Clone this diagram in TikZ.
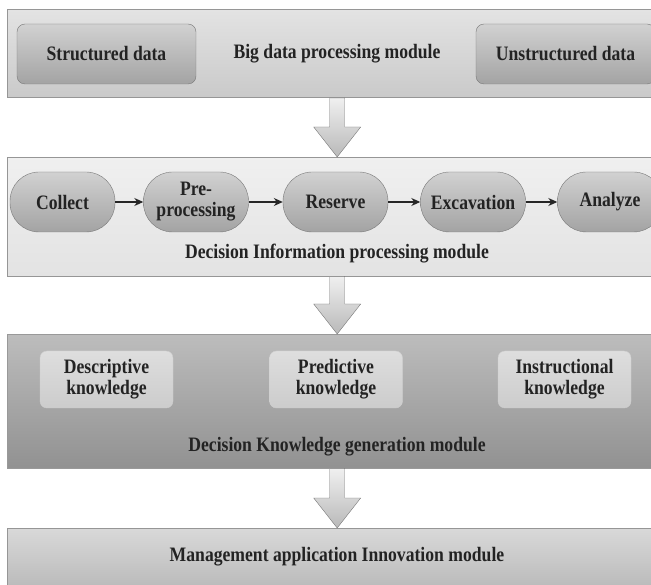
\documentclass[tikz,border=0pt]{standalone}
\usepackage{fontspec}
\setmainfont{Liberation Serif}[FakeStretch=0.86]
\usepackage{xcolor}
\definecolor{bdtext}{RGB}{35,35,35}
\definecolor{bdedge}{RGB}{150,150,150}
\definecolor{bddark}{RGB}{120,120,120}
\usepackage{tikz}
\usetikzlibrary{arrows.meta, positioning, calc}

\tikzset{
  band/.style={draw=bdedge, anchor=north west, minimum width=660pt, inner sep=0pt},
  databox/.style={draw=bddark, rounded corners=8pt, top color=gray!36, bottom color=gray!72,
    minimum width=179pt, minimum height=60pt, font=\fontsize{20.5}{22}\selectfont\bfseries, text=bdtext},
  stadium/.style={draw=bddark, rounded corners=29pt, top color=gray!36, bottom color=gray!72,
    minimum width=105pt, minimum height=60pt, align=center, inner sep=2pt,
    font=\fontsize{20.5}{21}\selectfont\bfseries, text=bdtext},
  knowbox/.style={draw=gray!38, rounded corners=7pt, top color=gray!26, bottom color=gray!40,
    minimum width=133pt, minimum height=57pt, align=center,
    font=\fontsize{20.5}{21}\selectfont\bfseries, text=bdtext},
  title/.style={font=\fontsize{20.5}{22}\selectfont\bfseries, text=bdtext},
  flow/.style={-{Stealth[length=9pt,width=8pt]}, line width=1.1pt, draw=black!85},
  blockarr/.style={draw=bddark, top color=gray!12, bottom color=gray!55}
}
% block arrow between two bands
\newcommand{\bigarrow}[2]{%
  \path[blockarr] ($(#1.south)+(-7.5,0)$) -- ($(#2.north)+(-7.5,-30)$) -- ($(#2.north)+(-23.5,-30)$)
    -- (#2.north) -- ($(#2.north)+(23.5,-30)$) -- ($(#2.north)+(7.5,-30)$) -- ($(#1.south)+(7.5,0)$) -- cycle;}

\begin{document}
\begin{tikzpicture}[x=1pt, y=-1pt]
  \useasboundingbox (0,0) rectangle (651,585);
  \clip (0,0) rectangle (651,585);

  % bands
  \node[band, top color=gray!22, bottom color=gray!42, minimum height=88pt] (bigband) at (7,9.5) {};
  \node[band, top color=gray!12, bottom color=gray!22, minimum height=119pt] (infoband) at (7,157) {};
  \node[band, draw=gray!80, top color=gray!52, bottom color=gray!86, minimum height=134pt] (knowband) at (7,334) {};
  \node[band, top color=gray!30, bottom color=gray!58, minimum height=70pt] (mgmtband) at (7,528) {};

  % big data processing module
  \node[databox] (structured) at (106.5,54) {Structured data};
  \node[databox] (unstructured) at (565.5,54) {Unstructured data};
  \node[title] (bigtitle) at (337,54) {Big data processing module};

  % decision information processing module
  \node[stadium] (collect) at (62.5,202) {Collect};
  \node[stadium] (preproc) at (196,202) {Pre-\\processing};
  \node[stadium] (reserve) at (335.5,202) {Reserve};
  \node[stadium] (excav) at (473,202) {Excavation};
  \node[stadium] (analyze) at (610,202) {Analyze};
  \node[title] (infotitle) at (337,254) {Decision Information processing module};
  \draw[flow] (collect) -- (preproc);
  \draw[flow] (preproc) -- (reserve);
  \draw[flow] (reserve) -- (excav);
  \draw[flow] (excav) -- (analyze);

  % decision knowledge generation module
  \node[knowbox] (descr) at (106.5,379.5) {Descriptive\\knowledge};
  \node[knowbox] (predict) at (336,379.5) {Predictive\\knowledge};
  \node[knowbox] (instruct) at (564.5,379.5) {Instructional\\knowledge};
  \node[title] (knowtitle) at (337,447) {Decision Knowledge generation module};

  % management application innovation module
  \node[title] (mgmttitle) at (337,557) {Management application Innovation module};

  % block arrows
  \bigarrow{bigband}{infoband}
  \bigarrow{infoband}{knowband}
  \bigarrow{knowband}{mgmtband}
\end{tikzpicture}
\end{document}
